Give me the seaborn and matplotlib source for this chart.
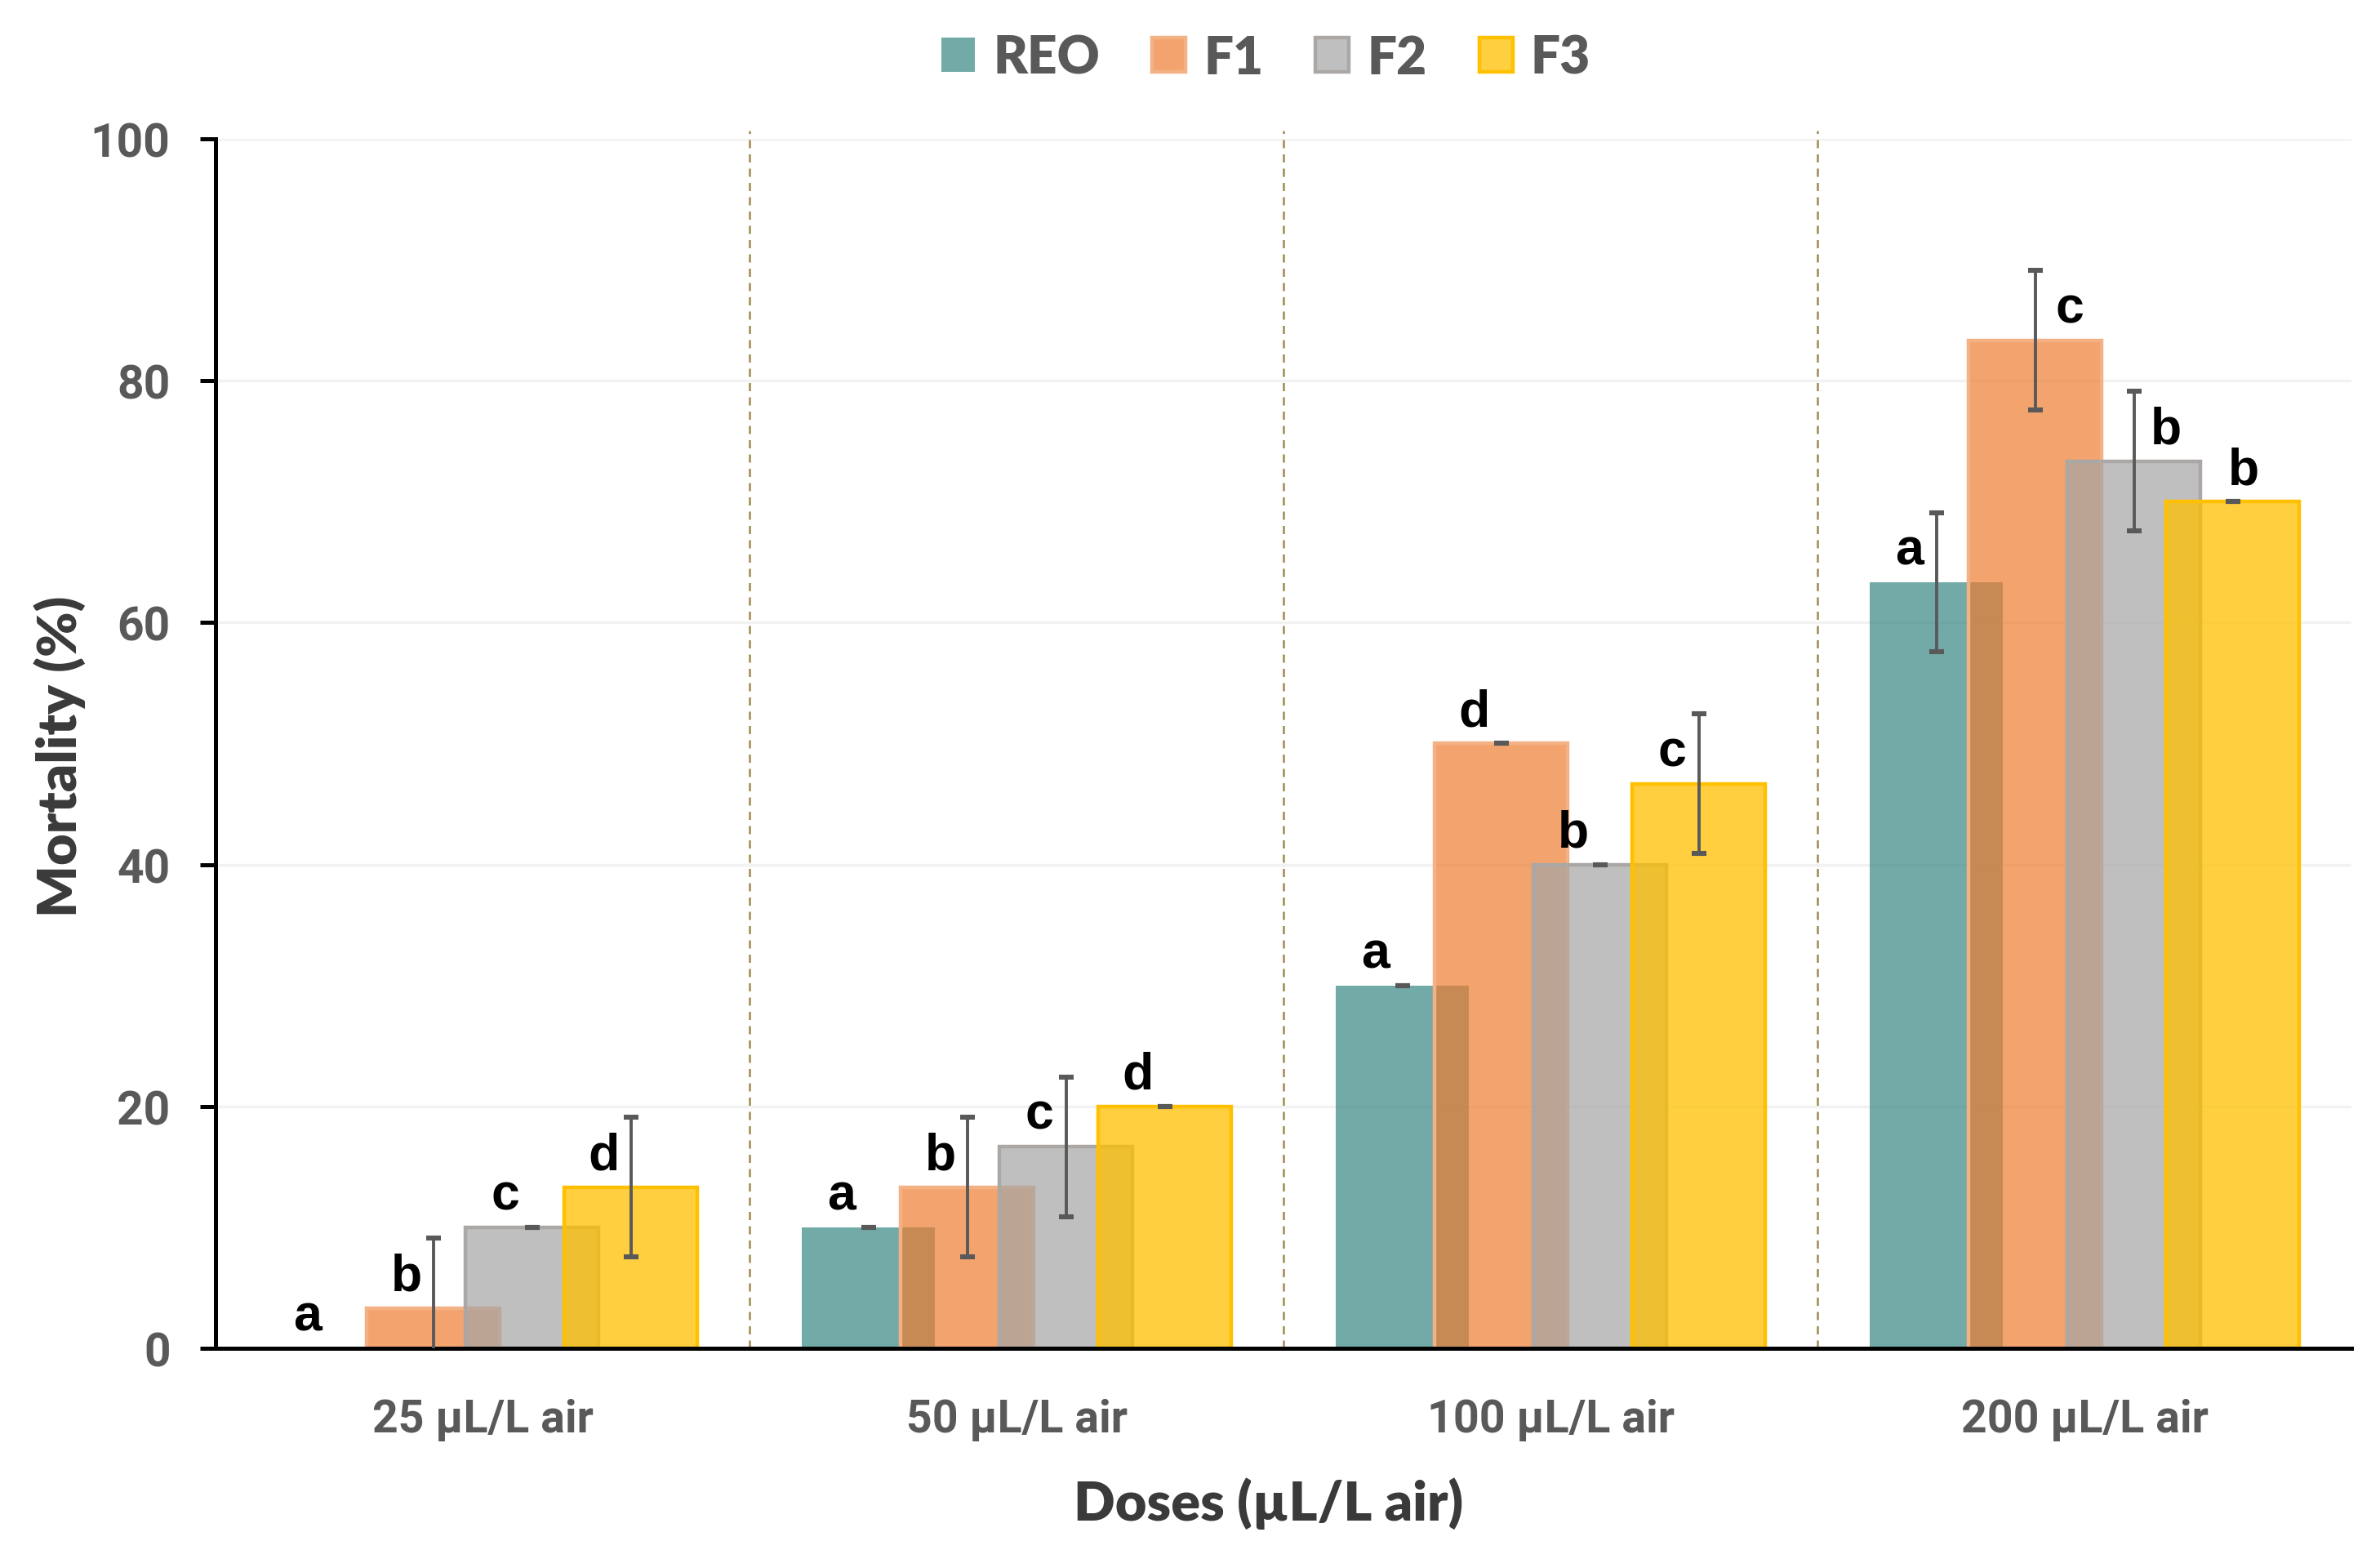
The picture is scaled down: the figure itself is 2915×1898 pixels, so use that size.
import numpy as np
import pandas as pd
import seaborn as sns
import matplotlib.pyplot as plt
from matplotlib.colors import to_rgba
from matplotlib.patches import Patch

# data
doses = ['25 µL/L air', '50 µL/L air', '100 µL/L air', '200 µL/L air']
series = ['REO', 'F1', 'F2', 'F3']

reo = [0, 10, 30, 63.33]
f1 = [3.33, 13.33, 50, 83.33]
f2 = [10, 16.67, 40, 73.33]
f3 = [13.33, 20, 46.67, 70]

reo_sd = [0, 0, 0, 5.77]
f1_sd = [5.77, 5.77, 0, 5.77]
f2_sd = [0, 5.77, 0, 5.77]
f3_sd = [5.77, 0, 5.77, 0]

reo_letters = ['a', 'a', 'a', 'a']
f1_letters = ['b', 'b', 'd', 'c']
f2_letters = ['c', 'c', 'b', 'b']
f3_letters = ['d', 'd', 'c', 'b']

values = [reo, f1, f2, f3]
sds = [reo_sd, f1_sd, f2_sd, f3_sd]
letters = [reo_letters, f1_letters, f2_letters, f3_letters]

# styling
face = ['#378683', '#ED7D31', '#A5A5A5', '#FFC000']
face_alpha = [0.7, 0.7, 0.7, 0.75]
edge = [None, '#F4B183', '#ABA7A5', '#FFC000']
step = 0.185
bar_w = 0.25

sns.set_theme(style='white')
plt.rcParams['font.family'] = ['Roboto', 'DejaVu Sans']

fig = plt.figure(figsize=(14.575, 9.495), dpi=200)
ax = fig.add_axes([0.0906, 0.1301, 0.8974, 0.7799])

for i, name in enumerate(series):
    pos = np.arange(len(doses)) + (i - 1.5) * step
    df = pd.DataFrame({'x': pos, 'y': values[i]})
    sns.barplot(data=df, x='x', y='y', native_scale=True, orient='x',
                width=bar_w, errorbar=None, saturation=1, ax=ax)
    for bar in ax.patches[-len(doses):]:
        bar.set_facecolor(to_rgba(face[i], face_alpha[i]))
        if edge[i] is None:
            bar.set_linewidth(0)
        else:
            bar.set_edgecolor(edge[i])
            bar.set_linewidth(1.6)
        bar.set_zorder(2)

for i, name in enumerate(series):
    pos = np.arange(len(doses)) + (i - 1.5) * step
    vals = np.array(values[i])
    errs = np.array(sds[i])
    keep = vals > 0  # no cap drawn on a zero bar
    ax.errorbar(pos[keep], vals[keep], yerr=errs[keep], fmt='none', ecolor='#595959',
                elinewidth=1.4, capsize=3.4, capthick=2.2, zorder=3)
    for j in range(len(doses)):
        dx = -0.05
        if j == 3 and i == 1:
            dx = 0.065
        elif j == 3 and i == 2:
            dx = 0.06
        elif j == 3 and i == 3:
            dx = 0.02
        ax.text(pos[j] + dx, values[i][j] + 1.5, letters[i][j], ha='center',
                va='baseline', fontsize=22.5, fontweight='bold', color='black',
                family=['Liberation Sans', 'DejaVu Sans'], zorder=4)

# dashed separators between dose groups
ax.vlines([0.5, 1.5, 2.5], 0, 100.7, colors='#A08A4E', linestyles=(0, (4, 3)),
          linewidth=0.9, zorder=1.5, clip_on=False)

ax.set_xlim(-0.5, 3.5)
ax.set_ylim(0, 100)
ax.set_xticks(range(len(doses)))
ax.set_xticklabels(doses)
ax.set_yticks(range(0, 101, 20))
ax.yaxis.grid(True, color='#F2F2F2', linewidth=1.2)
ax.xaxis.grid(False)
ax.set_axisbelow(True)

sns.despine(ax=ax)
for s in ['left', 'bottom']:
    ax.spines[s].set_color('black')
    ax.spines[s].set_linewidth(1.8)

ax.tick_params(axis='x', length=0, pad=22, labelsize=20, labelcolor='#595959')
ax.tick_params(axis='y', length=7, width=1.8, color='black', direction='out',
               left=True, pad=13, labelsize=20.5, labelcolor='#595959')
for lab in ax.get_xticklabels() + ax.get_yticklabels():
    lab.set_fontweight('bold')

ax.set_xlabel('Doses (µL/L air)', fontsize=24, fontweight='heavy', color='#3A3A3A',
              family=['Lato', 'DejaVu Sans'], labelpad=16)
ax.set_ylabel('Mortality (%)', fontsize=24, fontweight='heavy', color='#3A3A3A',
              family=['Lato', 'DejaVu Sans'], labelpad=2)
ax.xaxis.label.set_x(0.493)
ax.yaxis.label.set_y(0.49)

handles = []
for i, name in enumerate(series):
    if edge[i] is None:
        handles.append(Patch(facecolor=to_rgba(face[i], face_alpha[i]), linewidth=0))
    else:
        handles.append(Patch(facecolor=to_rgba(face[i], face_alpha[i]),
                             edgecolor=edge[i], linewidth=1.6))
leg = fig.legend(handles, series, loc='center', bbox_to_anchor=(0.532, 0.962),
                 ncol=4, frameon=False, handlelength=0.64, handleheight=0.64,
                 handletextpad=0.35, columnspacing=1.0,
                 prop={'family': ['Lato', 'DejaVu Sans'], 'weight': 'heavy', 'size': 23})
for t in leg.get_texts():
    t.set_color('#595959')

fig.savefig('out.png', dpi=200)
